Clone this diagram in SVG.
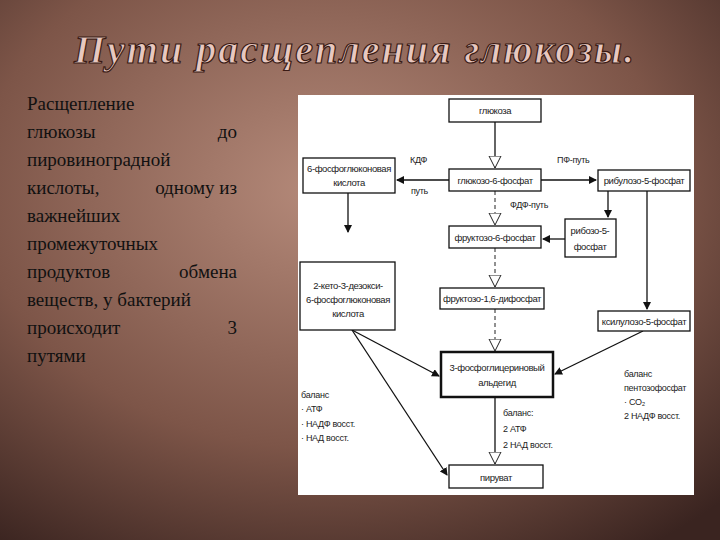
<svg xmlns="http://www.w3.org/2000/svg" width="720" height="540" viewBox="0 0 720 540">
<defs>
<radialGradient id="bg" cx="0.45" cy="0.35" r="0.8">
<stop offset="0" stop-color="#b58a7a"/><stop offset="0.6" stop-color="#7d5548"/><stop offset="1" stop-color="#3a2420"/>
</radialGradient>
<marker id="ah" markerWidth="8" markerHeight="8" refX="7" refY="4" orient="auto" markerUnits="userSpaceOnUse"><path d="M0,0L8,4L0,8z" fill="#111"/></marker>
<marker id="ho" markerWidth="13" markerHeight="14" refX="12" refY="7" orient="auto" markerUnits="userSpaceOnUse"><path d="M0,1L12,7L0,13z" fill="#fff" stroke="#222"/></marker>
</defs>
<style>
.b{fill:#fff;stroke:#111;stroke-width:1.3}
.t{font-family:"Liberation Sans",sans-serif;font-size:9.5px;fill:#222;text-anchor:middle;letter-spacing:-0.4px}
.s{font-family:"Liberation Sans",sans-serif;font-size:9px;fill:#222;letter-spacing:-0.3px}
.c{stroke:#111;stroke-width:1.3;fill:none}
.d{stroke:#222;stroke-width:1;fill:none;stroke-dasharray:4,3}
.p{font-family:"Liberation Serif",serif;font-size:19px;fill:#111}
</style>
<rect width="720" height="540" fill="url(#bg)"/>
<text x="355" y="63" text-anchor="middle" font-family="Liberation Serif,serif" font-style="italic" font-weight="bold" font-size="40" fill="#e8c8c0" stroke="#3a1a14" stroke-width="1.2" letter-spacing="2">Пути расщепления глюкозы.</text>
<g id="para" class="p">
<text x="27" y="110">Расщепление</text>
<text x="27" y="138">глюкозы</text><text x="237" y="138" text-anchor="end">до</text>
<text x="27" y="166">пировиноградной</text>
<text x="27" y="194">кислоты,</text><text x="237" y="194" text-anchor="end">одному из</text>
<text x="27" y="222">важнейших</text>
<text x="27" y="250">промежуточных</text>
<text x="27" y="278">продуктов</text><text x="237" y="278" text-anchor="end">обмена</text>
<text x="27" y="306">веществ, у бактерий</text>
<text x="27" y="334">происходит</text><text x="237" y="334" text-anchor="end">3</text>
<text x="27" y="362">путями</text>
</g>
<rect x="298" y="95" width="396" height="400" fill="#fff"/>
<g id="connectors">
<line class="c" x1="495" y1="122" x2="495" y2="168" marker-end="url(#ho)"/>
<line class="c" x1="449" y1="180" x2="397" y2="180" marker-end="url(#ah)"/>
<line class="c" x1="541" y1="180" x2="596" y2="180" marker-end="url(#ah)"/>
<line class="c" x1="348" y1="193" x2="348" y2="232" marker-end="url(#ah)"/>
<line class="d" x1="495" y1="191" x2="495" y2="225" marker-end="url(#ho)"/>
<line class="c" x1="608" y1="191" x2="608" y2="217" marker-end="url(#ah)"/>
<line class="c" x1="565" y1="239" x2="543" y2="239" marker-end="url(#ah)"/>
<line class="c" x1="647" y1="191" x2="647" y2="309" marker-end="url(#ah)"/>
<line class="d" x1="495" y1="248" x2="495" y2="287" marker-end="url(#ho)"/>
<line class="d" x1="495" y1="309" x2="495" y2="351" marker-end="url(#ho)"/>
<line class="c" x1="352" y1="330" x2="439" y2="376" marker-end="url(#ah)"/>
<line class="c" x1="643" y1="331" x2="555" y2="374" marker-end="url(#ah)"/>
<line class="c" x1="352" y1="330" x2="447" y2="475" marker-end="url(#ah)"/>
<line class="c" x1="495" y1="397" x2="495" y2="464" marker-end="url(#ho)"/>
</g>
<g id="n1"><rect class="b" x="449" y="99" width="92" height="23"/><text class="t" x="495" y="114">глюкоза</text></g>
<g id="n2"><rect class="b" x="449" y="169" width="92" height="22"/><text class="t" x="495" y="184">глюкозо-6-фосфат</text></g>
<g id="n3"><rect class="b" x="303" y="158" width="92" height="35"/><text class="t" x="349" y="172">6-фосфоглюконовая</text><text class="t" x="349" y="186">кислота</text></g>
<g id="n4"><rect class="b" x="598" y="170" width="92" height="21"/><text class="t" x="644" y="184">рибулозо-5-фосфат</text></g>
<g id="n5"><rect class="b" x="565" y="219" width="51" height="38"/><text class="t" x="590" y="234">рибозо-5-</text><text class="t" x="590" y="250">фосфат</text></g>
<g id="n6"><rect class="b" x="449" y="226" width="92" height="22"/><text class="t" x="495" y="241">фруктозо-6-фосфат</text></g>
<g id="n7"><rect class="b" x="300" y="262" width="95" height="68"/><text class="t" x="348" y="289">2-кето-3-дезокси-</text><text class="t" x="348" y="303">6-фосфоглюконовая</text><text class="t" x="348" y="317">кислота</text></g>
<g id="n8"><rect class="b" x="440" y="288" width="104" height="21"/><text class="t" x="492" y="302">фруктозо-1,6-дифосфат</text></g>
<g id="n9"><rect class="b" x="598" y="311" width="92" height="20"/><text class="t" x="644" y="325">ксилулозо-5-фосфат</text></g>
<g id="n10"><rect x="441" y="352" width="112" height="45" fill="#fff" stroke="#111" stroke-width="2.5"/><text class="t" x="497" y="371">3-фосфоглицериновый</text><text class="t" x="497" y="386">альдегид</text></g>
<g id="n11"><rect class="b" x="449" y="465" width="94" height="23"/><text class="t" x="496" y="481">пируват</text></g>
<g id="labels" class="s">
<text x="410" y="163">КДФ</text><text x="411" y="194">путь</text>
<text x="557" y="163">ПФ-путь</text>
<text x="510" y="208">ФДФ-путь</text>
<text x="301" y="398">баланс</text><text x="301" y="412">· АТФ</text><text x="301" y="427">· НАДФ восст.</text><text x="301" y="441">· НАД восст.</text>
<text x="503" y="416">баланс:</text><text x="503" y="432">2 АТФ</text><text x="503" y="448">2 НАД восст.</text>
<text x="624" y="377">баланс</text><text x="624" y="391">пентозофосфат</text><text x="624" y="405">· CO₂</text><text x="624" y="419">2 НАДФ восст.</text>
</g>
</svg>
